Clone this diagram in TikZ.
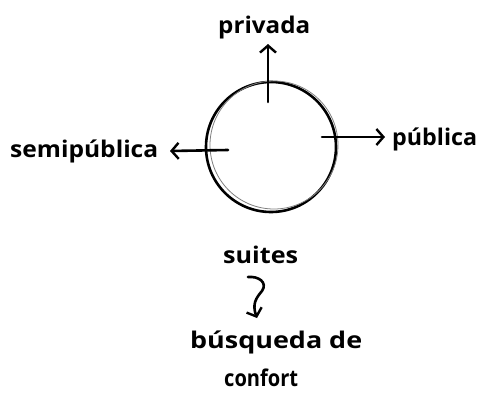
\documentclass[tikz,border=0pt]{standalone}
\usepackage{fontspec}
\usepackage{graphicx}
\setmainfont{Open Sans}
\usetikzlibrary{arrows.meta}
\newcommand{\hwtext}[2]{\resizebox{#1}{\height}{#2}}
\begin{document}
\begin{tikzpicture}[x=1pt,y=-1pt,
  ink/.style={line width=2.6pt,line cap=round,line join=round,black},
  arr/.style={ink,-{Straight Barb[length=7pt,width=16pt,line width=2.4pt]}},
  lbl/.style={font=\fontsize{23}{27}\selectfont\bfseries,inner sep=0pt,anchor=base west}]
\useasboundingbox (0,0) rectangle (483,394);
% circle
\node[circle,draw,ink,minimum size=130pt,inner sep=0pt] (c) at (271,147) {};
\draw[black!50,line width=0.8pt] (274,145) circle (64);
% anchor points of arrows
\coordinate (up0) at (268,102);
\coordinate (up1) at (268,44);
\coordinate (r0) at (322,137);
\coordinate (r1) at (385,137);
\coordinate (l0) at (228,150);
\coordinate (l1) at (170,151);
% labels
\node[lbl] (priv) at (218,33) {\hwtext{92pt}{privada}};
\node[lbl] (pub) at (392,145) {\hwtext{85pt}{pública}};
\node[lbl] (semi) at (10,157) {\hwtext{148pt}{semipública}};
\node[lbl] (suites) at (223,263) {\hwtext{75pt}{suites}};
\node[lbl] (busq) at (190,348) {\hwtext{172pt}{búsqueda de}};
\node[lbl] (conf) at (224,386) {\hwtext{74pt}{confort}};
% arrows
\draw[arr] (up0) -- (up1);
\draw[arr] (r0) -- (r1);
\draw[arr] (l0) -- (l1);
\coordinate (s0) at (248,277);
\coordinate (s1) at (257,318);
\draw[arr] (s0) .. controls (258,276) and (268,282) .. (262,291)
  .. controls (256,298) and (252,304) .. (s1);
\end{tikzpicture}
\end{document}
